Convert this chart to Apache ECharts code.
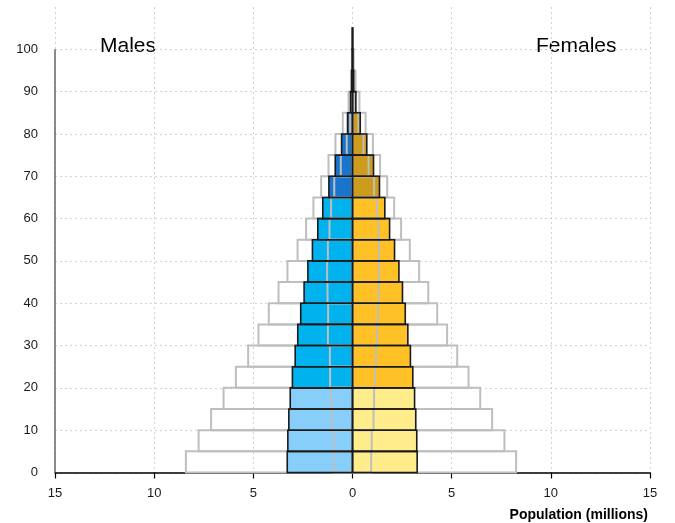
<!DOCTYPE html>
<html>
<head>
<meta charset="utf-8">
<script src="https://cdn.jsdelivr.net/npm/echarts@6/dist/echarts.min.js"></script>
<style>
html,body{margin:0;padding:0;background:#fff;}
#chart{width:675px;height:523px;}
</style>
</head>
<body>
<div id="chart"></div>
<script>
// Age group starts (5-year bands, last is 100+)
const ageGroups = [0,5,10,15,20,25,30,35,40,45,50,55,60,65,70,75,80,85,90,95,100];
// Current population (millions), coloured bars
const malesNow   = [3.29,3.26,3.21,3.14,3.03,2.89,2.76,2.61,2.44,2.25,2.02,1.75,1.50,1.19,0.87,0.55,0.25,0.10,0.04,0.012,0.003];
const femalesNow = [3.26,3.24,3.19,3.13,3.04,2.92,2.79,2.66,2.52,2.34,2.12,1.87,1.63,1.36,1.06,0.72,0.39,0.17,0.06,0.02,0.005];
// Larger comparison population (grey outline bars)
const malesOuter   = [8.40,7.76,7.13,6.50,5.88,5.26,4.74,4.22,3.73,3.28,2.77,2.34,1.97,1.58,1.21,0.86,0.49,0.20,0.08,0.03,0.005];
const femalesOuter = [8.25,7.66,7.04,6.44,5.85,5.28,4.77,4.27,3.82,3.36,2.89,2.45,2.10,1.75,1.39,1.03,0.66,0.35,0.15,0.06,0.01];
// Smaller comparison population (grey outline bars drawn over the coloured bars)
const malesInner   = [0.94,0.94,1.04,1.08,1.13,1.14,1.24,1.23,1.26,1.28,1.24,1.16,1.08,0.92,0.59,0.29,0.12,0.05,0.015,0.004,0.001];
const femalesInner = [0.94,0.97,1.06,1.09,1.14,1.19,1.24,1.28,1.31,1.34,1.34,1.31,1.23,1.09,0.81,0.55,0.30,0.12,0.04,0.01,0.002];
// Tick values
const xTicks = [-15,-10,-5,0,5,10,15];
const yTicks = [0,10,20,30,40,50,60,70,80,90,100];

const BAND = 5;
const X_MIN = -15, X_MAX = 15, Y_TOP = 100, Y_MAX = 110;

const maleColors   = {young:'#87CEFA', adult:'#00B2EE', old:'#1874CD'};
const femaleColors = {young:'#FFEC8B', adult:'#FFC125', old:'#CD9B1D'};
function ageClass(a){ return a < 20 ? 'young' : (a < 65 ? 'adult' : 'old'); }

function pairData(male, female){
  const d = [];
  ageGroups.forEach((a,i)=>{ d.push([a, male[i], -1]); });
  ageGroups.forEach((a,i)=>{ d.push([a, female[i], 1]); });
  return d;
}

function makeRender(kind){
  return function(params, api){
    const age = api.value(0), v = api.value(1), side = api.value(2);
    const p0 = api.coord([0, age]);
    const p1 = api.coord([side * v, age + BAND]);
    const x = Math.min(p0[0], p1[0]);
    const w = Math.abs(p1[0] - p0[0]);
    const y = p1[1], h = p0[1] - p1[1];
    let style;
    if (kind === 'outer' || kind === 'inner') {
      style = {fill: 'none', stroke: '#BEBEBE', lineWidth: 2};
    } else if (kind === 'fill') {
      const pal = side < 0 ? maleColors : femaleColors;
      style = {fill: pal[ageClass(age)], stroke: null};
    } else {
      style = {fill: 'none', stroke: '#1a1a1a', lineWidth: 1.6};
    }
    return {type: 'rect', shape: {x: x, y: y, width: w, height: h}, style: style};
  };
}

const FONT = "'Liberation Sans', Arial, Helvetica, sans-serif";
const chart = echarts.init(document.getElementById('chart'), null, {renderer: 'canvas'});
const option = {
  animation: false,
  backgroundColor: '#ffffff',
  grid: {left: 55, right: 25, top: 7, bottom: 50.5, containLabel: false},
  xAxis: {
    type: 'value', min: X_MIN, max: X_MAX, interval: 5,
    axisLine: {show: true, lineStyle: {color: '#000', width: 1.5}},
    axisTick: {show: true, inside: false, length: 6, lineStyle: {color: '#000', width: 1.2}},
    axisLabel: {color: '#1a1a1a', fontSize: 13, fontFamily: FONT, margin: 14,
      formatter: v => xTicks.indexOf(v) >= 0 ? String(Math.abs(v)) : ''},
    splitLine: {show: true, lineStyle: {color: '#d3d3d3', type: [2, 3], width: 1}}
  },
  yAxis: {
    type: 'value', min: 0, max: Y_MAX, interval: 10,
    axisLine: {show: false},
    axisTick: {show: false},
    axisLabel: {color: '#1a1a1a', fontSize: 13, fontFamily: FONT, margin: 17,
      formatter: v => yTicks.indexOf(v) >= 0 ? String(v) : ''},
    splitLine: {show: true, showMaxLine: false, lineStyle: {color: '#d3d3d3', type: [2, 3], width: 1}}
  },
  graphic: [
    {type: 'text', left: 100, top: 36, style: {text: 'Males', font: '21px ' + FONT, fill: '#000'}},
    {type: 'text', left: 536, top: 36, style: {text: 'Females', font: '21px ' + FONT, fill: '#000'}},
    {type: 'text', right: 27, top: 508, style: {text: 'Population (millions)', font: 'bold 14px ' + FONT, fill: '#000'}}
  ],
  series: [
    {type: 'line', data: [[X_MIN, 0], [X_MIN, Y_TOP]], symbol: 'none', silent: true,
      lineStyle: {color: '#666', width: 1.5}, z: 1},
    {type: 'custom', renderItem: makeRender('outer'), data: pairData(malesOuter, femalesOuter), silent: true, z: 2},
    {type: 'custom', renderItem: makeRender('fill'), data: pairData(malesNow, femalesNow), silent: true, z: 3},
    {type: 'custom', renderItem: makeRender('inner'), data: pairData(malesInner, femalesInner), silent: true, z: 4},
    {type: 'custom', renderItem: makeRender('border'), data: pairData(malesNow, femalesNow), silent: true, z: 5}
  ]
};
chart.setOption(option);
</script>
</body>
</html>
